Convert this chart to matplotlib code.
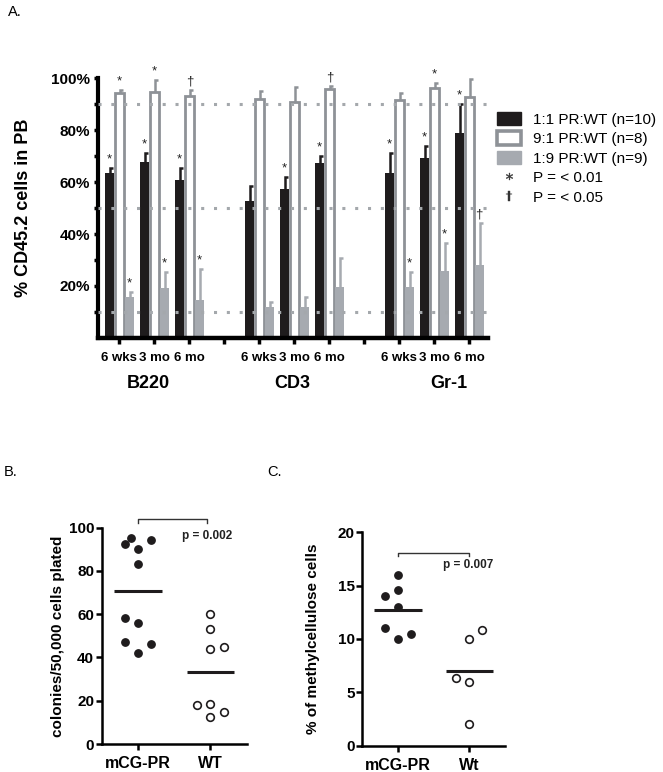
import matplotlib
matplotlib.use("Agg")
import matplotlib.pyplot as plt
from matplotlib.patches import Patch
from matplotlib.lines import Line2D
import matplotlib.transforms as mtrans
import numpy as np

plt.rcParams['font.family'] = ['Liberation Sans', 'DejaVu Sans']

# ---------------- data: panel A ----------------
lineages = ["B220", "CD3", "Gr-1"]
timepoints = ["6 wks", "3 mo", "6 mo"]
series_labels = ["1:1 PR:WT (n=10)", "9:1 PR:WT (n=8)", "1:9 PR:WT (n=9)"]
sig_labels = ["P = < 0.01", "P = < 0.05"]

ratio_1_1 = [63.6, 67.6, 60.8, 52.7, 57.2, 67.2, 63.4, 69.2, 79.0]
ratio_1_1_err = [1.7, 3.5, 4.5, 5.8, 4.9, 2.9, 7.9, 4.7, 11.1]
ratio_9_1 = [94.2, 94.8, 93.2, 91.9, 91.0, 95.7, 91.6, 96.1, 92.7]
ratio_9_1_err = [1.3, 4.5, 2.3, 3.3, 5.5, 1.3, 2.6, 2.2, 6.9]
ratio_1_9 = [15.9, 19.1, 14.6, 12.0, 12.0, 19.7, 19.7, 25.8, 28.1]
ratio_1_9_err = [1.7, 6.4, 11.9, 1.9, 3.9, 11.0, 5.6, 10.9, 16.3]

sig_1_1 = ["*", "*", "*", "", "*", "*", "*", "*", "*"]
sig_9_1 = ["*", "*", "\u2020", "", "", "\u2020", "", "*", ""]
sig_1_9 = ["*", "*", "*", "", "", "", "*", "*", "\u2020"]

ref_levels = [10, 50, 90]

# ---------------- data: panel B ----------------
b_groups = ["mCG-PR", "WT"]
b_mcg = [92.6, 95.2, 94.3, 90.3, 83.2, 58.1, 56.1, 47.2, 46.2, 41.9]
b_wt = [60.2, 53.2, 43.9, 45.0, 18.0, 18.5, 14.9, 12.3]
b_p = "p = 0.002"

# ---------------- data: panel C ----------------
c_groups = ["mCG-PR", "Wt"]
c_mcg = [16.0, 14.0, 14.6, 13.0, 11.0, 10.0, 10.5]
c_wt = [10.0, 10.8, 6.3, 6.0, 2.0]
c_p = "p = 0.007"

# horizontal scatter offsets (layout only)
b_mcg_jit = [-0.18, -0.09, 0.18, 0, 0, -0.18, 0, -0.18, 0.18, 0]
b_wt_jit = [0, 0, 0, 0.18, -0.18, 0, 0.18, 0]
c_mcg_jit = [0, -0.18, 0, 0, -0.18, 0, 0.18]
c_wt_jit = [0, 0.18, -0.18, 0, 0]

BLACK = "#1f1c1d"
OUTLINE = "#8e9297"
LIGHT = "#a6aab0"
DOT = "#a4a8ac"

W, H = 663, 772
fig = plt.figure(figsize=(W / 100, H / 100), dpi=100)


def rect(l, t, r, b):
    return [l / W, 1 - b / H, (r - l) / W, (b - t) / H]


# ================= Panel A =================
axA = fig.add_axes(rect(98, 78.3, 488, 337.9))
pos = np.array([g * 4 + t for g in range(len(lineages)) for t in range(len(timepoints))])
bw = 0.25
offs = [-0.28, 0.0, 0.28]

series = [
    (ratio_1_1, ratio_1_1_err, sig_1_1, dict(color=BLACK), BLACK),
    (ratio_9_1, ratio_9_1_err, sig_9_1, dict(facecolor="white", edgecolor=OUTLINE, linewidth=2.0), OUTLINE),
    (ratio_1_9, ratio_1_9_err, sig_1_9, dict(color=LIGHT), LIGHT),
]
for k, (vals, errs, sigs, style, ecol) in enumerate(series):
    xs = pos + offs[k]
    axA.bar(xs, vals, width=bw, zorder=2, **style)
    for x, v, e, s in zip(xs, vals, errs, sigs):
        top = v + e
        axA.plot([x + 0.02, x + 0.02, x + 0.11], [v, top, top], color=ecol, lw=1.8,
                 solid_capstyle="butt", solid_joinstyle="miter", zorder=3)
        if s:
            axA.text(x, top + 1.0, s, ha="center", va="bottom", fontsize=9.5, color="#222222", zorder=4)

for lvl in ref_levels:
    axA.axhline(lvl, color=DOT, lw=2.2, linestyle=(0, (1, 3.2)), dash_capstyle="butt", zorder=5)

axA.set_xlim(-0.61, 10.53)
axA.set_ylim(0, 100)
axA.set_yticks([20, 40, 60, 80, 100])
axA.set_yticklabels([f"{v}%" for v in [20, 40, 60, 80, 100]], fontsize=11, fontweight="bold")
axA.set_yticks([10, 30, 50, 70, 90], minor=True)
all_ticks = np.arange(0, 11)
axA.set_xticks(all_ticks)
xt_labels = []
for t in all_ticks:
    if t in pos:
        xt_labels.append(timepoints[t % 4])
    else:
        xt_labels.append("")
axA.set_xticklabels(xt_labels, fontsize=9.5, fontweight="bold")
axA.tick_params(axis="y", which="both", length=3, width=2.5, pad=2.5, direction="out")
axA.tick_params(axis="x", length=4, width=2.5, pad=6, direction="out")
for sp in ["top", "right"]:
    axA.spines[sp].set_visible(False)
axA.spines["left"].set_linewidth(3)
axA.spines["bottom"].set_linewidth(3.2)
axA.set_ylabel("% CD45.2 cells in PB", fontsize=13, fontweight="bold")
axA.yaxis.set_label_coords(-0.17, 0.5)

trans = mtrans.blended_transform_factory(axA.transData, fig.transFigure)
group_x = [0.82, 4.93, 9.4]
for gx, name in zip(group_x, lineages):
    axA.text(gx, 1 - 383 / H, name, transform=trans, ha="center", va="center",
             fontsize=13, fontweight="bold")

handles = [
    Patch(facecolor=BLACK, edgecolor=BLACK),
    Patch(facecolor="white", edgecolor=OUTLINE, linewidth=2.6),
    Patch(facecolor=LIGHT, edgecolor=LIGHT),
    Line2D([], [], ls="none", marker="$*$", color="#333333", markersize=5, markeredgewidth=0.3),
    Line2D([], [], ls="none", marker="$\\dagger$", color="#333333", markersize=7, markeredgewidth=0.3),
]
fig.legend(handles, series_labels + sig_labels, loc="upper left",
           bbox_to_anchor=(497 / W, 1 - 112 / H), frameon=False, fontsize=11,
           handlelength=1.6, handleheight=0.95, handletextpad=0.75,
           labelspacing=0.3, borderpad=0, borderaxespad=0)

fig.text(8 / W, 1 - 12 / H, "A.", fontsize=10.5, va="center", ha="left")
fig.text(4 / W, 1 - 472 / H, "B.", fontsize=10.5, va="center", ha="left")
fig.text(267 / W, 1 - 472 / H, "C.", fontsize=10.5, va="center", ha="left")


# ================= Panels B & C =================
def dot_panel(ax, groups, filled, open_, jf, jo, ymax, yticks, ylabel, ptxt, br, ptxt_xy):
    ax.plot(np.array(jf) + 0, filled, ls="none", marker="o", ms=5.3,
            color=BLACK, clip_on=False, zorder=3)
    ax.plot(np.array(jo) + 1, open_, ls="none", marker="o", ms=5.5,
            mfc="white", mec=BLACK, mew=1.2, clip_on=False, zorder=3)
    ax.plot([-0.33, 0.33], [np.mean(filled)] * 2, color=BLACK, lw=2.2, solid_capstyle="butt")
    ax.plot([0.67, 1.33], [np.mean(open_)] * 2, color=BLACK, lw=2.2, solid_capstyle="butt")
    x0, x1, yb, yt = br
    ax.plot([x0, x0, x1, x1], [yb, yt, yt, yb], color="#333333", lw=1.0, clip_on=False)
    ax.text(ptxt_xy[0], ptxt_xy[1], ptxt, ha="center", va="center",
            fontsize=8.5, fontweight="bold", color="#222222")
    ax.set_xlim(-0.5, 1.5)
    ax.set_ylim(0, ymax)
    ax.set_xticks([0, 1])
    ax.set_xticklabels(groups, fontsize=11.5, fontweight="bold")
    ax.set_yticks(yticks)
    ax.set_yticklabels([str(v) for v in yticks], fontsize=11, fontweight="bold")
    ax.tick_params(axis="both", length=4, width=1.8, direction="out")
    ax.tick_params(axis="y", pad=1.5)
    ax.tick_params(axis="x", pad=5)
    for sp in ["top", "right"]:
        ax.spines[sp].set_visible(False)
    for sp in ["left", "bottom"]:
        ax.spines[sp].set_linewidth(1.8)
    ax.set_ylabel(ylabel, fontsize=11, fontweight="bold")


axB = fig.add_axes(rect(101.7, 527.7, 246.7, 744))
dot_panel(axB, b_groups, b_mcg, b_wt, b_mcg_jit, b_wt_jit, 100,
          [0, 20, 40, 60, 80, 100], "colonies/50,000 cells plated", b_p,
          (0.0, 0.95, 102.3, 103.8), (0.95, 96.3))
axB.yaxis.set_label_coords(-0.25, 0.5)

axC = fig.add_axes(rect(362.3, 532.3, 505, 745.5))
dot_panel(axC, c_groups, c_mcg, c_wt, c_mcg_jit, c_wt_jit, 20,
          [0, 5, 10, 15, 20], "% of methylcellulose cells", c_p,
          (0.0, 1.0, 17.8, 18.1), (0.98, 16.9))
axC.yaxis.set_label_coords(-0.295, 0.5)

fig.savefig("out.png", dpi=100)
